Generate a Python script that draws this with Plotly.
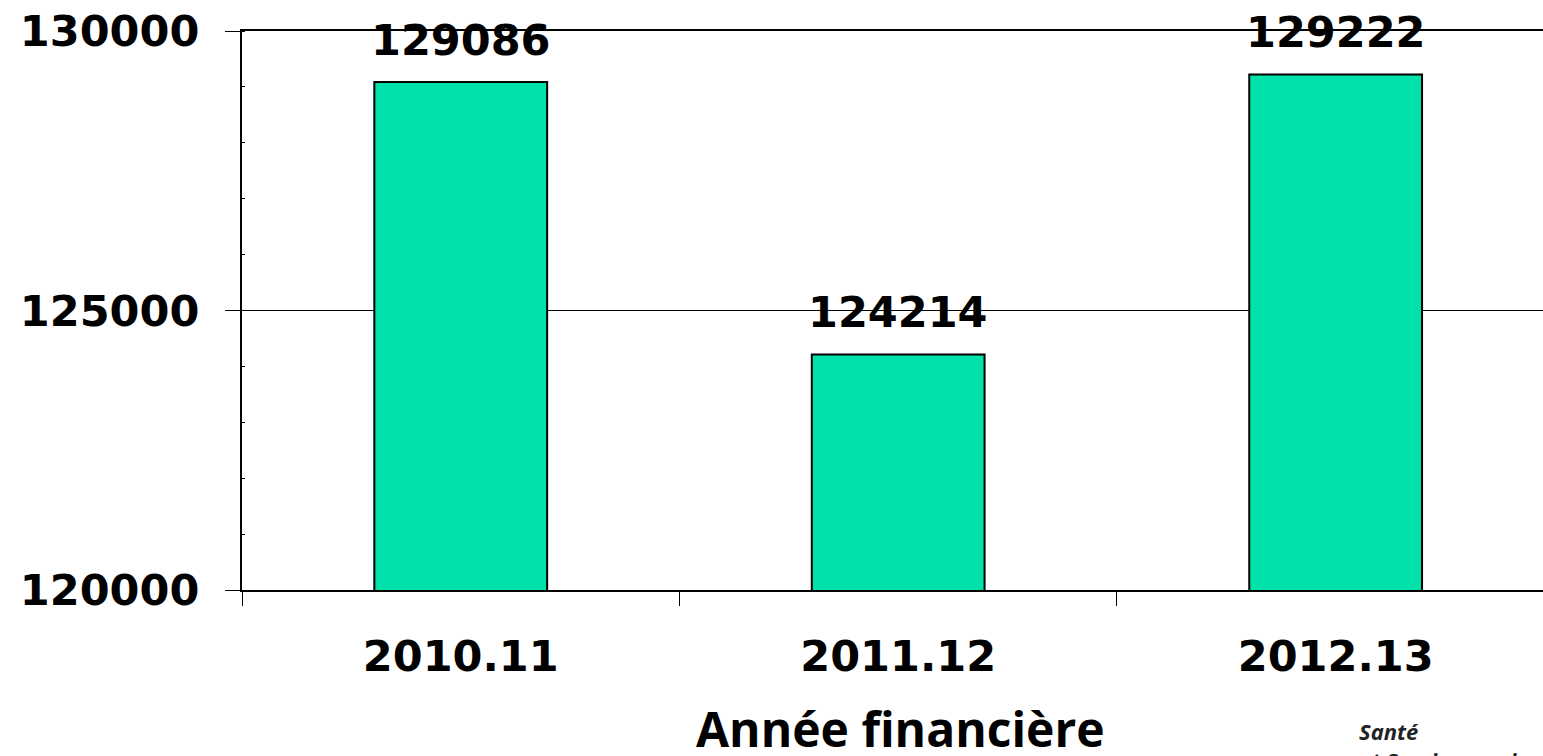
import plotly.graph_objects as go

categories = ["2010.11", "2011.12", "2012.13"]
values = [129086, 124214, 129222]
y_ticks = [120000, 125000, 130000]
x_title = "Année financière"
logo_text = "Santé<br>et Services sociaux"

BAR_COLOR = "#00E2AA"
FONT = "DejaVu Sans"

fig = go.Figure()
fig.add_trace(go.Bar(
    x=categories, y=values,
    marker=dict(color=BAR_COLOR, line=dict(color="black", width=2)),
    showlegend=False,
))

for i, v in enumerate(values):
    fig.add_annotation(
        x=i, y=v, xref="x", yref="y", text=f"<b>{v}</b>",
        showarrow=False, yanchor="bottom", yshift=15,
        font=dict(family=FONT, size=43, color="black"),
    )

fig.add_annotation(
    x=0.5058, y=-0.248, xref="paper", yref="paper", text=f"<b>{x_title}</b>",
    showarrow=False, xanchor="center", yanchor="middle",
    font=dict(family="Open Sans", size=48, color="black"),
)
fig.add_annotation(
    x=0.857, y=-0.222, xref="paper", yref="paper", text=f"<b><i>{logo_text}</i></b>",
    showarrow=False, xanchor="left", yanchor="top", align="left",
    font=dict(family="Open Sans", size=22, color="#222222"),
)

fig.update_layout(
    width=1543, height=756,
    margin=dict(l=242, r=0, t=31, b=166),
    paper_bgcolor="white", plot_bgcolor="white",
    bargap=0.605,
    font=dict(family=FONT, color="black"),
)
fig.update_xaxes(
    type="category", range=[-0.5, 2.474],
    showline=True, linecolor="black", linewidth=2, mirror=True,
    ticks="outside", ticklen=14, tickcolor="black", tickwidth=1,
    tickson="boundaries", ticklabelstandoff=27,
    tickfont=dict(family=FONT, size=43, color="black", weight="bold"),
    showgrid=False, zeroline=False,
)
fig.update_yaxes(
    range=[120000, 130000], tickvals=y_ticks, ticktext=[str(t) for t in y_ticks],
    showline=True, linecolor="black", linewidth=2,
    ticks="outside", ticklen=15, tickcolor="black", tickwidth=1,
    ticklabelstandoff=17,
    tickfont=dict(family=FONT, size=43, color="black", weight="bold"),
    showgrid=True, gridcolor="black", gridwidth=1, zeroline=False,
    minor=dict(dtick=1000, ticks="inside", ticklen=3, tickcolor="black", showgrid=False),
)

fig.write_html("out.html")
